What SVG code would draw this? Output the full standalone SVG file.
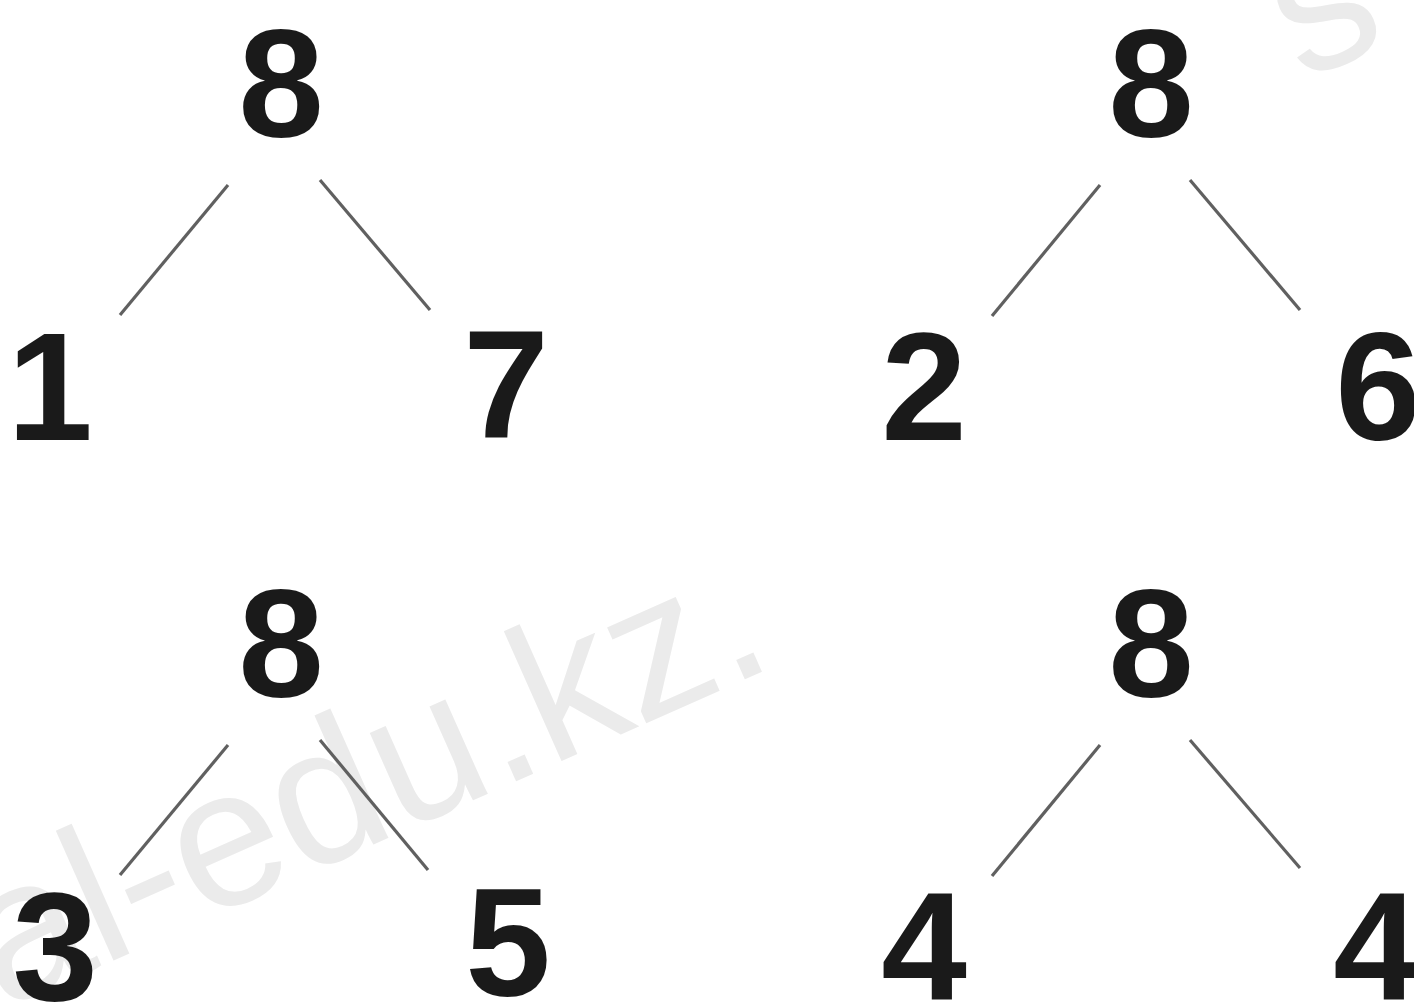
<svg xmlns="http://www.w3.org/2000/svg" width="1414" height="1005" viewBox="0 0 1414 1005">
<style>
.n{font-family:"Liberation Sans",Arial,sans-serif;font-weight:bold;font-size:154px;fill:#1a1a1a;text-anchor:middle}
.e{stroke:#606060;stroke-width:3.2;stroke-linecap:butt}
.wm{font-family:"Liberation Sans",Arial,sans-serif;font-size:196px;fill:#ebebeb}
</style>
<rect width="1414" height="1005" fill="#ffffff"/>
<text class="wm" transform="translate(2,1010) rotate(-24)">al-edu.kz.</text>
<text class="wm" transform="translate(1302,82) rotate(-24)">s</text>
<g id="connectors">
<line class="e" x1="228" y1="185" x2="120" y2="315"/>
<line class="e" x1="320" y1="180" x2="430" y2="310"/>
<line class="e" x1="1100" y1="185" x2="992" y2="316"/>
<line class="e" x1="1190" y1="180" x2="1300" y2="310"/>
<line class="e" x1="228" y1="745" x2="120" y2="875"/>
<line class="e" x1="320" y1="740" x2="428" y2="870"/>
<line class="e" x1="1100" y1="745" x2="992" y2="876"/>
<line class="e" x1="1190" y1="740" x2="1300" y2="868"/>
</g>
<g id="tree1">
<text class="n" x="281" y="137">8</text>
<text class="n" x="50" y="440">1</text>
<text class="n" x="506" y="438">7</text>
</g>
<g id="tree2">
<text class="n" x="1151" y="137">8</text>
<text class="n" x="924" y="440">2</text>
<text class="n" x="1378" y="440">6</text>
</g>
<g id="tree3">
<text class="n" x="55" y="1000">3</text>
<text class="n" x="281" y="697">8</text>
<text class="n" x="508" y="996">5</text>
</g>
<g id="tree4">
<text class="n" x="1151" y="697">8</text>
<text class="n" x="924" y="1000">4</text>
<text class="n" x="1376" y="1000">4</text>
</g>
</svg>
